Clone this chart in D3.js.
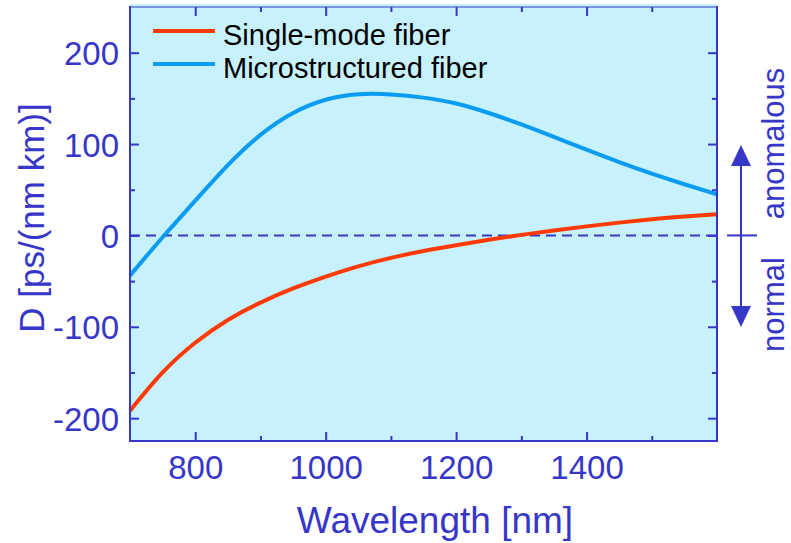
<!DOCTYPE html>
<html>
<head>
<meta charset="utf-8">
<script src="https://cdn.jsdelivr.net/npm/d3@7"></script>
<style>
  html, body { margin: 0; padding: 0; background: #ffffff; }
  svg { display: block; }
  text { font-family: "Liberation Sans", Arial, Helvetica, sans-serif; }
</style>
</head>
<body>
<svg id="chart" width="791" height="543"></svg>
<script>
// ---- data ----
const wavelengths = [700, 750, 800, 850, 900, 950, 1000, 1050, 1100, 1150, 1200, 1250, 1300, 1350, 1400, 1450, 1500, 1550, 1600];
const singleMode = [-192, -150, -117.5, -92.5, -73.5, -58, -45, -33.8, -24.6, -17, -10.7, -4.8, 0.6, 5.4, 9.9, 14.0, 17.7, 20.7, 23.2];
const microstructured = [-44, -2, 38, 77, 110, 134, 148.5, 154.5, 154.3, 150.8, 144.4, 134, 121.5, 107.8, 93.8, 80.2, 67.6, 56, 45];
const seriesNames = ["Single-mode fiber", "Microstructured fiber"];
const xMajorTicks = [800, 1000, 1200, 1400];
const xMinorTicks = [900, 1100, 1300, 1500];
const yMajorTicks = [-200, -100, 0, 100, 200];
const yMinorTicks = [-150, -50, 50, 150];
const xTitle = "Wavelength [nm]";
const yTitle = "D [ps/(nm km)]";
const sideLabels = ["anomalous", "normal"];

// ---- styles ----
const AX = "#3636c8";
const RED = "#ff3a00";
const BLUE = "#0a9cf2";
const BG = "#c6f1fd";

const svg = d3.select("#chart");
const L = 130, R = 717, T = 7, B = 441;
const x = d3.scaleLinear().domain([700, 1600]).range([L, R]);
const y = d3.scaleLinear().domain([-225, 250]).range([B, T]);

// background
svg.append("rect").attr("x", L).attr("y", T - 3).attr("width", R - L).attr("height", B - T + 3).attr("fill", BG);

// zero dashed line
svg.append("line").attr("x1", L).attr("x2", R).attr("y1", y(0)).attr("y2", y(0))
  .attr("stroke", AX).attr("stroke-width", 2).attr("stroke-dasharray", "10,6");

// curves
const line = d3.line().x((d, i) => x(wavelengths[i])).y(d => y(d)).curve(d3.curveNatural);
svg.append("path").datum(microstructured).attr("d", line).attr("fill", "none").attr("stroke", BLUE).attr("stroke-width", 4);
svg.append("path").datum(singleMode).attr("d", line).attr("fill", "none").attr("stroke", RED).attr("stroke-width", 4);

// axes ticks (inward)
function styleAxis(g) {
  g.select(".domain").remove();
  g.selectAll(".tick line").attr("stroke", AX).attr("stroke-width", 2);
}
svg.append("g").attr("transform", `translate(0,${B})`)
  .call(d3.axisBottom(x).tickValues(xMajorTicks).tickSize(-9).tickFormat(d3.format("d")))
  .call(styleAxis)
  .call(g => g.selectAll(".tick text").attr("y", 38).attr("dy", null)
    .attr("fill", AX).attr("font-size", 33).attr("font-family", "Liberation Sans, Arial, sans-serif"));
svg.append("g").attr("transform", `translate(0,${B})`)
  .call(d3.axisBottom(x).tickValues(xMinorTicks).tickSize(-5).tickFormat(""))
  .call(styleAxis);
svg.append("g").attr("transform", `translate(0,${T})`)
  .call(d3.axisTop(x).tickValues(xMajorTicks).tickSize(-9).tickFormat(""))
  .call(styleAxis);
svg.append("g").attr("transform", `translate(0,${T})`)
  .call(d3.axisTop(x).tickValues(xMinorTicks).tickSize(-5).tickFormat(""))
  .call(styleAxis);
svg.append("g").attr("transform", `translate(${L},0)`)
  .call(d3.axisLeft(y).tickValues(yMajorTicks).tickSize(-9).tickFormat(d => String(d)))
  .call(styleAxis)
  .call(g => g.selectAll(".tick text").attr("x", -11).attr("dy", null).attr("y", 12)
    .attr("fill", AX).attr("font-size", 33).attr("font-family", "Liberation Sans, Arial, sans-serif"));
svg.append("g").attr("transform", `translate(${L},0)`)
  .call(d3.axisLeft(y).tickValues(yMinorTicks).tickSize(-5).tickFormat(""))
  .call(styleAxis);
svg.append("g").attr("transform", `translate(${R},0)`)
  .call(d3.axisRight(y).tickValues(yMajorTicks).tickSize(-9).tickFormat(""))
  .call(styleAxis);
svg.append("g").attr("transform", `translate(${R},0)`)
  .call(d3.axisRight(y).tickValues(yMinorTicks).tickSize(-5).tickFormat(""))
  .call(styleAxis);

// frame
svg.append("line").attr("x1", L).attr("x2", R).attr("y1", T).attr("y2", T).attr("stroke", AX).attr("stroke-width", 1.2);
svg.append("line").attr("x1", L).attr("x2", R).attr("y1", B).attr("y2", B).attr("stroke", AX).attr("stroke-width", 2);
svg.append("line").attr("x1", L).attr("x2", L).attr("y1", T - 1).attr("y2", B + 1).attr("stroke", AX).attr("stroke-width", 2);
svg.append("line").attr("x1", R).attr("x2", R).attr("y1", T - 1).attr("y2", B + 1).attr("stroke", AX).attr("stroke-width", 2);

// axis titles
svg.append("text").attr("x", 435).attr("y", 533).attr("text-anchor", "middle")
  .attr("font-size", 37).attr("fill", AX).text(xTitle);
svg.append("text").attr("transform", "translate(44,218) rotate(-90)").attr("text-anchor", "middle")
  .attr("font-size", 35).attr("fill", AX).text(yTitle);

// legend
const legendColors = [RED, BLUE];
const legendY = [31, 64];
seriesNames.forEach((name, i) => {
  svg.append("line").attr("x1", 153).attr("x2", 215).attr("y1", legendY[i]).attr("y2", legendY[i])
    .attr("stroke", legendColors[i]).attr("stroke-width", 4);
  svg.append("text").attr("x", 223).attr("y", legendY[i] + 14).attr("font-size", 29).attr("fill", "#000")
    .text(name);
});

// right side annotation
const ax = 741;
svg.append("line").attr("x1", 727).attr("x2", 757).attr("y1", y(0)).attr("y2", y(0)).attr("stroke", AX).attr("stroke-width", 2);
svg.append("line").attr("x1", ax).attr("x2", ax).attr("y1", 160).attr("y2", 312).attr("stroke", AX).attr("stroke-width", 2);
svg.append("path").attr("d", `M${ax},145 L${ax + 10},166 L${ax - 10},166 Z`).attr("fill", AX);
svg.append("path").attr("d", `M${ax},327 L${ax + 10},306 L${ax - 10},306 Z`).attr("fill", AX);
svg.append("text").attr("transform", "translate(784,143.5) rotate(-90)").attr("text-anchor", "middle")
  .attr("font-size", 31).attr("fill", AX).text(sideLabels[0]);
svg.append("text").attr("transform", "translate(784,304.5) rotate(-90)").attr("text-anchor", "middle")
  .attr("font-size", 31).attr("fill", AX).text(sideLabels[1]);
</script>
</body>
</html>
